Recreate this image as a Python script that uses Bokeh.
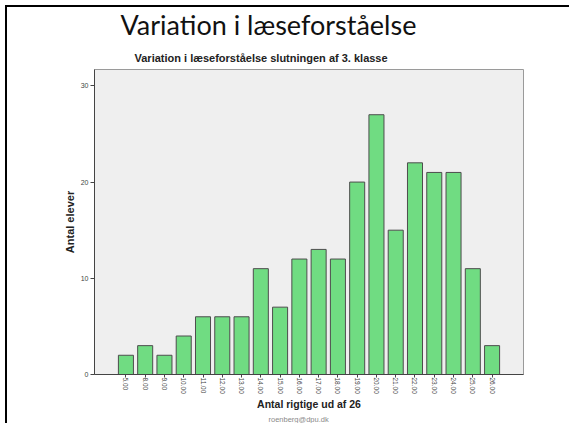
import math
from bokeh.plotting import figure
from bokeh.models import FactorRange, Range1d, Title, FixedTicker, InlineStyleSheet
from bokeh.embed import file_html
from bokeh.resources import INLINE

# Data
categories = ["5.00", "8.00", "9.00", "10.00", "11.00", "12.00", "13.00", "14.00",
              "15.00", "16.00", "17.00", "18.00", "19.00", "20.00", "21.00", "22.00",
              "23.00", "24.00", "25.00", "26.00"]
counts = [2, 3, 2, 4, 6, 6, 6, 11, 7, 12, 13, 12, 20, 27, 15, 22, 21, 21, 11, 3]
y_ticks = [0, 10, 20, 30]

slide_title = "Variation i læseforståelse"
chart_title = "Variation i læseforståelse slutningen af 3. klasse"
x_label = "Antal rigtige ud af 26"
y_label = "Antal elever"
footer = "roenberg@dpu.dk"

p = figure(
    width=569, height=423,
    x_range=FactorRange(factors=categories, range_padding=0.113, range_padding_units="percent"),
    y_range=Range1d(0, 31.7),
    output_backend="svg", toolbar_location=None,
    min_border_left=94, min_border_right=46, min_border_top=69, min_border_bottom=48,
)
# slide frame lines (left and top edge of the slide), drawn behind a transparent canvas
p.stylesheets = [InlineStyleSheet(css=(
    ":host { background-color: white;"
    " background-image: linear-gradient(#000, #000), linear-gradient(#000, #000);"
    " background-size: 2px 100%, 100% 2px;"
    " background-position: 5px 5px, 5px 5px;"
    " background-repeat: no-repeat; }"))]
p.border_fill_alpha = 0

# slide title (outermost)
p.title.text = slide_title
p.title.text_font = "Lato"
p.title.text_font_style = "normal"
p.title.text_font_size = "27px"
p.title.text_color = "#111111"
p.title.align = "left"
p.title.offset = 26
p.title.standoff = 5

# chart title (closest to frame)
p.add_layout(Title(text=chart_title, text_font="Liberation Sans", text_font_size="11px",
                   text_font_style="bold", text_color="#222222", align="left",
                   offset=40, standoff=12), "above")

p.vbar(x=categories, top=counts, width=0.78, fill_color="#70dc82",
       line_color="#4d4d4d", line_width=1)

p.background_fill_color = "#efefef"
p.outline_line_color = "#9a9a9a"
p.xgrid.visible = False
p.ygrid.visible = False

# y axis
p.yaxis.ticker = FixedTicker(ticks=y_ticks)
p.yaxis.minor_tick_line_color = None
p.yaxis.major_tick_in = 0
p.yaxis.major_tick_out = 4
p.yaxis.axis_line_color = "#444444"
p.yaxis.major_tick_line_color = "#444444"
p.yaxis.major_label_text_font = "Liberation Sans"
p.yaxis.major_label_text_font_size = "7px"
p.yaxis.major_label_text_color = "#444444"
p.yaxis.major_label_standoff = 2
p.yaxis.axis_label = y_label
p.yaxis.axis_label_text_font = "Liberation Sans"
p.yaxis.axis_label_text_font_style = "bold"
p.yaxis.axis_label_text_font_size = "11px"
p.yaxis.axis_label_text_color = "#222222"
p.yaxis.axis_label_standoff = 2

# x axis
p.xaxis.major_tick_in = 0
p.xaxis.major_tick_out = 3
p.xaxis.axis_line_color = "#444444"
p.xaxis.major_tick_line_color = "#444444"
p.xaxis.major_label_orientation = -math.pi / 2
p.xaxis.major_label_text_font = "Liberation Sans"
p.xaxis.major_label_text_font_size = "6.5px"
p.xaxis.major_label_text_color = "#444444"
p.xaxis.major_label_standoff = 0
p.xaxis.axis_label = x_label
p.xaxis.axis_label_text_font = "Liberation Sans"
p.xaxis.axis_label_text_font_style = "bold"
p.xaxis.axis_label_text_font_size = "10.5px"
p.xaxis.axis_label_text_color = "#222222"
p.xaxis.axis_label_standoff = 1

# footer
p.add_layout(Title(text=footer, text_font="Liberation Sans", text_font_size="7.5px",
                   text_font_style="normal", text_color="#8a8a8a", align="left",
                   offset=174, standoff=0), "below")

open("out.html", "w").write(file_html(p, INLINE))
